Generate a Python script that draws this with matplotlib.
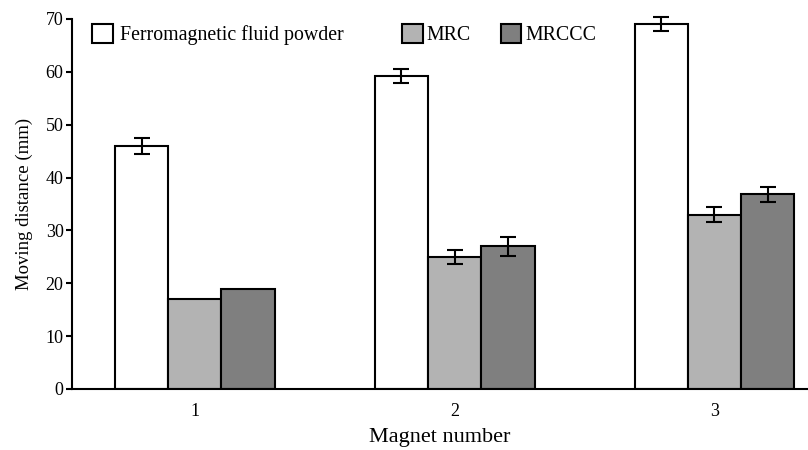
import numpy as np
import matplotlib
matplotlib.use("Agg")
import matplotlib.pyplot as plt

magnets = ["1", "2", "3"]
series = ["Ferromagnetic fluid powder", "MRC", "MRCCC"]
ferro = [46.0, 59.2, 69.0]
ferro_err = [1.5, 1.3, 1.3]
mrc = [17.0, 25.0, 33.0]
mrc_err = [0.0, 1.3, 1.5]
mrccc = [19.0, 27.0, 36.8]
mrccc_err = [0.0, 1.8, 1.5]

colors = ["white", "#b3b3b3", "#7f7f7f"]

plt.rcParams['font.family'] = ['Liberation Serif', 'DejaVu Serif']

fig = plt.figure(figsize=(8.08, 4.5), dpi=100)
ax = fig.add_axes([0.089, 0.1356, 0.911, 0.8222])

x = np.arange(1, len(magnets) + 1)
w = 0.205
vals = [ferro, mrc, mrccc]
errs = [ferro_err, mrc_err, mrccc_err]
handles = []
for i in range(3):
    e = np.array(errs[i])
    b = ax.bar(x + (i - 1) * w, vals[i], w, color=colors[i], edgecolor="black",
               linewidth=1.5, label=series[i])
    handles.append(b)
    mask = e > 0
    eb = ax.errorbar((x + (i - 1) * w)[mask], np.array(vals[i])[mask], yerr=e[mask],
                     fmt="none", ecolor="black", elinewidth=1.5, capsize=6, capthick=1.5)
    for art in eb.lines[1] + eb.lines[2]:
        art.set_clip_on(False)

ax.set_xlim(0.527, 3.36)
ax.set_ylim(0, 70)
ax.set_xticks(x)
ax.set_xticklabels(magnets)
ax.set_yticks(range(0, 71, 10))
ax.tick_params(axis="x", length=0, labelsize=13, pad=10)
ax.tick_params(axis="y", length=4, width=1.5, labelsize=13, pad=2)
for s in ["top", "right"]:
    ax.spines[s].set_visible(False)
for s in ["left", "bottom"]:
    ax.spines[s].set_linewidth(1.5)

ax.set_ylabel("Moving distance (mm)", fontsize=13.5, labelpad=9)
ax.set_xlabel("Magnet number", fontsize=16, labelpad=6)

leg1 = ax.legend(handles[:1], series[:1], loc="upper left", bbox_to_anchor=(0.027, 0.986),
                 frameon=False, fontsize=14.3, handlelength=1.05, handleheight=1.05,
                 handletextpad=0.35, borderpad=0, borderaxespad=0)
ax.add_artist(leg1)
ax.legend(handles[1:], series[1:], ncol=2, loc="upper left", bbox_to_anchor=(0.448, 0.986),
          frameon=False, fontsize=14.3, handlelength=1.05, handleheight=1.05,
          handletextpad=0.2, columnspacing=1.5, borderpad=0, borderaxespad=0)

fig.savefig("out.png", dpi=100)
